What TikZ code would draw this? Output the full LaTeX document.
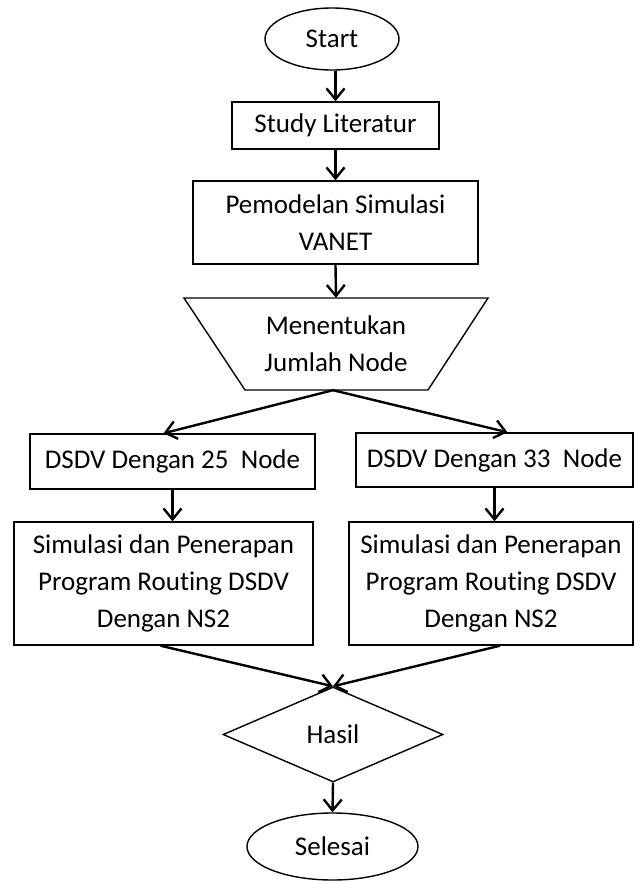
\documentclass[tikz,border=0pt]{standalone}
\usepackage{fontspec}
\setmainfont[Ligatures=NoCommon]{Carlito}
\usetikzlibrary{arrows.meta,shapes.geometric}
\begin{document}
\begin{tikzpicture}[x=1pt,y=-1pt,
  every node/.style={font=\fontsize{27}{37}\selectfont, align=center, inner sep=0pt},
  box/.style={draw, line width=1.4pt, rectangle},
  term/.style={draw, line width=1.4pt, ellipse},
  dec/.style={draw, line width=1.4pt, diamond},
  arr/.style={line width=2.4pt, -{Straight Barb[length=11pt,width=18pt,line width=2.4pt]}}]
\useasboundingbox (0,0) rectangle (635,881);
\node[term, minimum width=134, minimum height=62] (start) at (332,39) {Start};
\node[box, minimum width=207, minimum height=47] (study) at (335.5,125.5) {Study Literatur};
\node[box, minimum width=285, minimum height=83] (model) at (335.5,222.5) {Pemodelan Simulasi\\VANET};
\draw[line width=1.4pt] (184,298) -- (488,298) -- (428,390) -- (245,390) -- cycle;
\node[minimum width=304, minimum height=92] (jumlah) at (336,344) {Menentukan\\Jumlah Node};
\node[box, minimum width=285, minimum height=55] (d25) at (172.5,461.5) {DSDV Dengan 25\ \ Node};
\node[box, minimum width=277, minimum height=54] (d33) at (494.5,460) {DSDV Dengan 33\ \ Node};
\node[box, minimum width=299, minimum height=123] (s25) at (163.5,583.5) {Simulasi dan Penerapan\\Program Routing DSDV\\Dengan NS2};
\node[box, minimum width=284, minimum height=123] (s33) at (491,583.5) {Simulasi dan Penerapan\\Program Routing DSDV\\Dengan NS2};
\node[dec, minimum width=220, minimum height=95, aspect=2.3] (hasil) at (333,734.5) {Hasil};
\node[term, minimum width=171, minimum height=67] (end) at (332.5,846.5) {Selesai};
\draw[arr] (start.south -| study.south) -- (study.north);
\draw[arr] (study.south) -- (model.north);
\draw[arr] (model.south) -- (jumlah.north);
\draw[arr] ([xshift=-3pt]jumlah.south) -- ([xshift=-9pt]d25.north);
\draw[arr] ([xshift=-3pt]jumlah.south) -- ([xshift=13pt]d33.north);
\draw[arr] (d25.south) -- (d25.south |- s25.north);
\draw[arr] (d33.south) -- (d33.south |- s33.north);
\draw[arr] ([xshift=-3pt]s25.south) -- (hasil.north);
\draw[arr] ([xshift=9pt]s33.south) -- (hasil.north);
\draw[arr] (hasil.south) -- (end.north);
\end{tikzpicture}
\end{document}
